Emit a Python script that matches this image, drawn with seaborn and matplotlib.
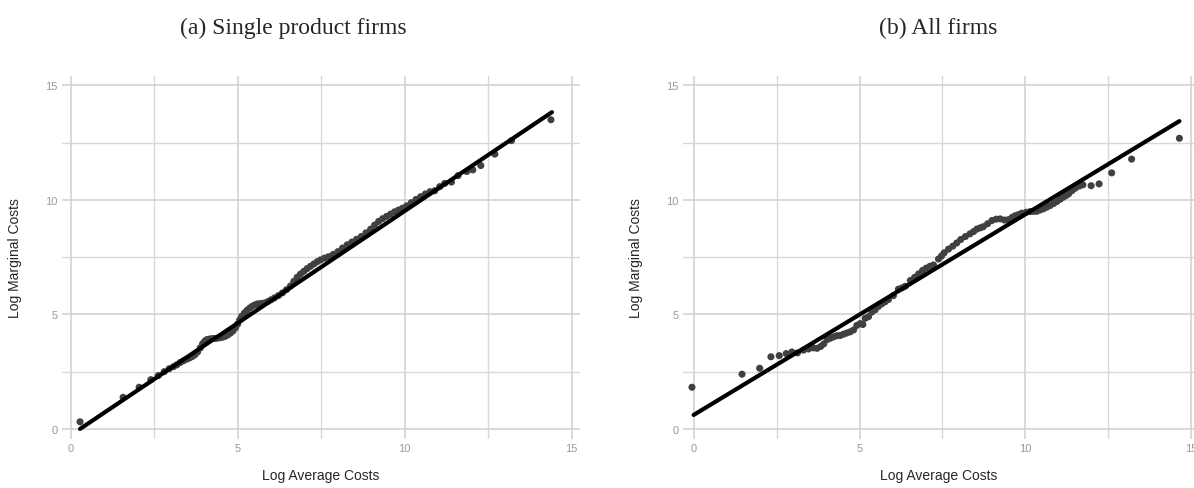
import numpy as np
import pandas as pd
import seaborn as sns
import matplotlib.pyplot as plt
from matplotlib.ticker import MultipleLocator

# (a) single product firms: binned log average vs log marginal costs
single_ac = [0.28, 1.57, 2.05, 2.40, 2.62, 2.80, 2.95, 3.08, 3.18, 3.28, 3.38, 3.48,
             3.56, 3.64, 3.72, 3.80, 3.88, 3.95, 4.02, 4.08, 4.15, 4.22, 4.30, 4.38,
             4.46, 4.54, 4.62, 4.70, 4.78, 4.86, 4.94, 5.00, 5.06, 5.12, 5.20, 5.28,
             5.36, 5.44, 5.52, 5.60, 5.70, 5.80, 5.90, 6.00, 6.10, 6.22, 6.34, 6.46,
             6.58, 6.68, 6.78, 6.88, 6.98, 7.08, 7.18, 7.28, 7.38, 7.48, 7.60, 7.72,
             7.86, 8.00, 8.14, 8.28, 8.42, 8.56, 8.70, 8.84, 8.98, 9.10, 9.22, 9.34,
             9.46, 9.58, 9.70, 9.82, 9.94, 10.06, 10.20, 10.34, 10.48, 10.62, 10.76,
             10.90, 11.05, 11.20, 11.40, 11.60, 11.86, 12.04, 12.28, 12.70, 13.20, 14.38]
single_mc = [0.31, 1.38, 1.82, 2.15, 2.33, 2.50, 2.63, 2.72, 2.80, 2.90, 2.98, 3.05,
             3.10, 3.16, 3.24, 3.36, 3.54, 3.72, 3.84, 3.90, 3.92, 3.94, 3.95, 3.96,
             3.98, 4.00, 4.04, 4.10, 4.18, 4.28, 4.42, 4.58, 4.76, 4.92, 5.06, 5.18,
             5.28, 5.36, 5.42, 5.46, 5.48, 5.50, 5.56, 5.64, 5.72, 5.82, 5.94, 6.08,
             6.24, 6.44, 6.62, 6.76, 6.88, 7.00, 7.10, 7.20, 7.30, 7.38, 7.46, 7.52,
             7.62, 7.74, 7.90, 8.04, 8.16, 8.28, 8.40, 8.56, 8.72, 8.90, 9.06, 9.18,
             9.28, 9.38, 9.48, 9.56, 9.64, 9.74, 9.88, 10.02, 10.14, 10.26, 10.36,
             10.40, 10.58, 10.72, 10.78, 11.06, 11.24, 11.31, 11.50, 12.00, 12.59, 13.50]
single_fit_x = [0.28, 14.41]
single_fit_y = [0.00, 13.83]

# (b) all firms
all_ac = [-0.05, 1.46, 1.99, 2.33, 2.58, 2.79, 2.96, 3.13, 3.31, 3.46, 3.61, 3.72,
          3.83, 3.92, 4.02, 4.12, 4.22, 4.32, 4.42, 4.52, 4.62, 4.72, 4.82, 4.92,
          5.02, 5.10, 5.17, 5.27, 5.37, 5.47, 5.57, 5.67, 5.77, 5.87, 6.02, 6.17,
          6.28, 6.38, 6.53, 6.66, 6.78, 6.90, 7.01, 7.12, 7.23, 7.38, 7.47, 7.55,
          7.68, 7.81, 7.93, 8.05, 8.19, 8.33, 8.44, 8.54, 8.64, 8.73, 8.86, 8.99,
          9.12, 9.24, 9.37, 9.49, 9.60, 9.69, 9.79, 9.89, 10.02, 10.14, 10.24, 10.34,
          10.44, 10.54, 10.64, 10.74, 10.85, 10.95, 11.05, 11.14, 11.22, 11.30, 11.40,
          11.50, 11.62, 11.73, 11.98, 12.22, 12.60, 13.20, 14.64]
all_mc = [1.82, 2.39, 2.65, 3.15, 3.20, 3.29, 3.36, 3.32, 3.44, 3.49, 3.54, 3.52,
          3.60, 3.71, 3.90, 3.96, 4.02, 4.07, 4.08, 4.14, 4.19, 4.24, 4.32, 4.52,
          4.60, 4.56, 4.83, 4.90, 5.10, 5.20, 5.35, 5.46, 5.55, 5.65, 5.82, 6.10,
          6.16, 6.23, 6.48, 6.62, 6.77, 6.92, 7.02, 7.10, 7.16, 7.42, 7.55, 7.69,
          7.85, 7.98, 8.12, 8.27, 8.40, 8.52, 8.62, 8.73, 8.78, 8.83, 8.96, 9.10,
          9.16, 9.17, 9.12, 9.14, 9.24, 9.31, 9.36, 9.42, 9.46, 9.49, 9.50, 9.50,
          9.56, 9.61, 9.68, 9.75, 9.84, 9.93, 10.03, 10.12, 10.19, 10.26, 10.40,
          10.51, 10.60, 10.66, 10.62, 10.70, 11.18, 11.78, 12.69]
all_fit_x = [0.00, 14.64]
all_fit_y = [0.61, 13.44]

titles = ["(a) Single product firms", "(b) All firms"]

sns.set_style("white")
plt.rcParams['font.family'] = ['Liberation Sans', 'DejaVu Sans']

fig = plt.figure(figsize=(11.94, 4.89), dpi=100)
ax1 = fig.add_axes([62 / 1194, 49 / 489, 518 / 1194, 363 / 489])
ax2 = fig.add_axes([683 / 1194, 49 / 489, 511 / 1194, 363 / 489])

panels = [
    (ax1, single_ac, single_mc, single_fit_x, single_fit_y, (-0.26, 15.25)),
    (ax2, all_ac, all_mc, all_fit_x, all_fit_y, (-0.32, 15.08)),
]

for ax, xs, ys, fx, fy, xlim in panels:
    pts = pd.DataFrame({"ac": xs, "mc": ys})
    fit = pd.DataFrame({"ac": fx, "mc": fy})
    sns.scatterplot(data=pts, x="ac", y="mc", ax=ax, color="#404040",
                    s=26, edgecolor="none", linewidth=0, zorder=2)
    sns.lineplot(data=fit, x="ac", y="mc", ax=ax, color="black",
                 linewidth=3.0, zorder=3)
    ax.set_xlim(*xlim)
    ax.set_ylim(-0.44, 15.41)
    for a in (ax.xaxis, ax.yaxis):
        a.set_major_locator(MultipleLocator(5))
        a.set_minor_locator(MultipleLocator(2.5))
    ax.grid(which="major", color="#cfcfcf", linewidth=1.1)
    ax.grid(which="minor", color="#d8d8d8", linewidth=1.0)
    ax.set_axisbelow(True)
    for s in ax.spines.values():
        s.set_visible(False)
    ax.tick_params(which="both", length=0, labelsize=8, labelcolor="#9a9a9a", pad=3)
    ax.set_xlabel("Log Average Costs", fontsize=10, labelpad=11)
    ax.set_ylabel("Log Marginal Costs", fontsize=10, labelpad=17)

fig.text(293 / 1194, 1 - 28 / 489, titles[0], ha="center", va="center",
         fontsize=17, family=["Liberation Serif", "DejaVu Serif"])
fig.text(938 / 1194, 1 - 28 / 489, titles[1], ha="center", va="center",
         fontsize=17, family=["Liberation Serif", "DejaVu Serif"])

fig.savefig("out.png", dpi=100)
